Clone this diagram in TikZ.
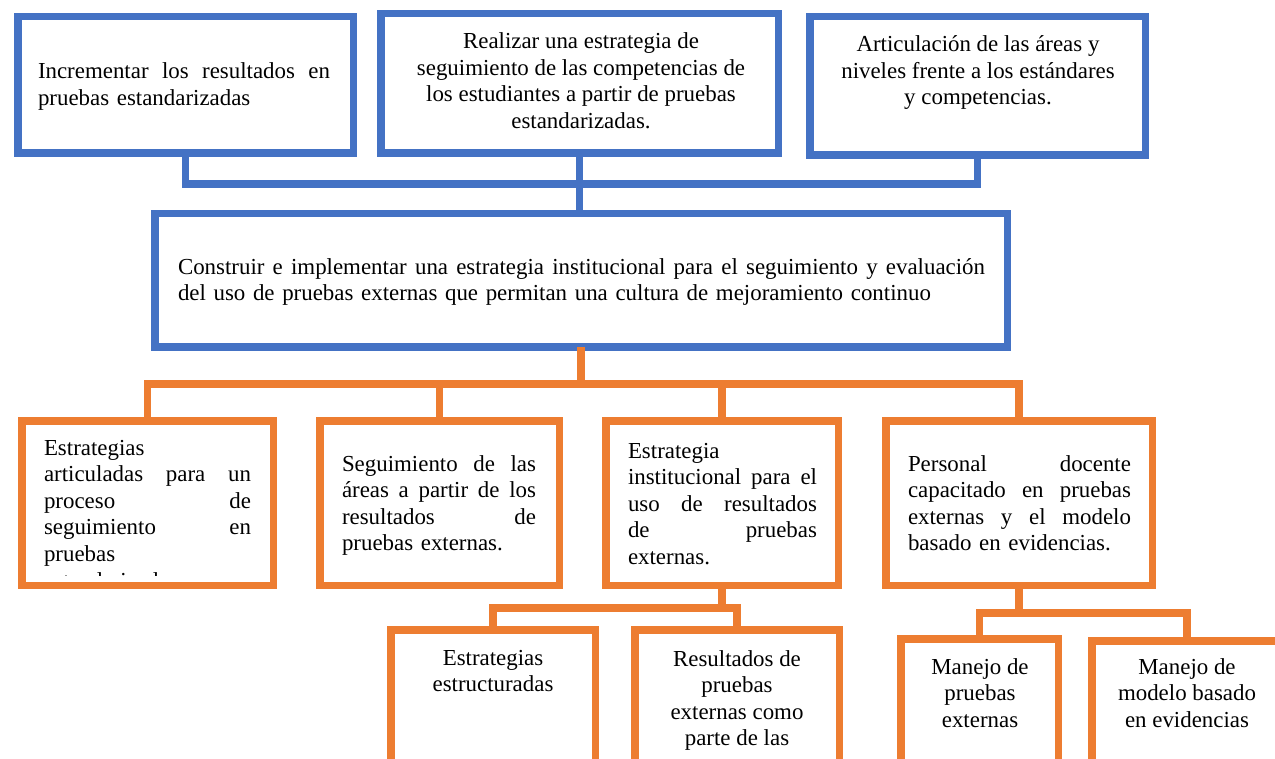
\documentclass[tikz,border=0pt]{standalone}
\usepackage{fontspec}
\setmainfont{Liberation Serif}
\definecolor{myblue}{HTML}{4472C4}
\definecolor{myorange}{HTML}{ED7D31}
\newcommand\jl[2]{\leavevmode\hbox to #1{#2}}
\tikzset{
  bbox/.style={draw=myblue, line width=7.5pt, fill=white, inner sep=0pt, outer sep=0pt},
  obox/.style={draw=myorange, line width=7.5pt, fill=white, inner sep=0pt, outer sep=0pt},
  bconn/.style={draw=myblue, line width=7.5pt},
  oconn/.style={draw=myorange, line width=7.5pt},
  txt/.style={inner sep=0pt, outer sep=0pt, font=\fontsize{22.9}{26.6}\selectfont},
  ltxt/.style={txt, anchor=north west, align=left},
  ctxt/.style={txt, anchor=north, align=center}
}
\begin{document}
\begin{tikzpicture}[x=1pt, y=-1pt]
\useasboundingbox (0,0) rectangle (1275,759);
\clip (0,0) rectangle (1275,759);
\fill[white] (0,0) rectangle (1275,759);

% boxes
\node[bbox, minimum width=335.5pt, minimum height=136.5pt] (b1) at (185.5,85) {};
\node[bbox, minimum width=397.5pt, minimum height=139.5pt] (b2) at (579.5,83.5) {};
\node[bbox, minimum width=335.5pt, minimum height=138.5pt] (b3) at (977.5,86) {};
\node[bbox, minimum width=852.5pt, minimum height=133.5pt] (c) at (581,280.5) {};
\node[obox, minimum width=251.5pt, minimum height=164.5pt] (oA) at (147.5,503) {};
\node[obox, minimum width=239.5pt, minimum height=164.5pt] (oB) at (439.5,503) {};
\node[obox, minimum width=232.5pt, minimum height=164.5pt] (oC) at (722,503) {};
\node[obox, minimum width=266.5pt, minimum height=164.5pt] (oD) at (1019,503) {};
\node[obox, minimum width=204.5pt, minimum height=166.5pt] (oE) at (493,713) {};
\node[obox, minimum width=204.5pt, minimum height=166.5pt] (oF) at (737,713) {};
\node[obox, minimum width=157.5pt, minimum height=157.5pt] (oG) at (979.5,717.5) {};
\node[obox, minimum width=190.5pt, minimum height=155.5pt] (oH) at (1187,718.5) {};

% connectors
\coordinate (topbar) at (581,184);
\coordinate (obar) at (581,384);
\coordinate (cbar) at (722,608);
\coordinate (dbar) at (1019,613);
\draw[bconn] (b1.south) |- (topbar) -| (b3.south);
\draw[bconn] (b2.south) -- (b2.south |- c.north);
\draw[oconn] (c.south) -- (c.south |- obar);
\draw[oconn] (oA.north) |- (obar) -| (oD.north);
\draw[oconn] (oB.north) -- (oB.north |- obar);
\draw[oconn] (oC.north) -- (oC.north |- obar);
\draw[oconn] (oC.south) -- (oC.south |- cbar);
\draw[oconn] (oE.north) |- (cbar) -| (oF.north);
\draw[oconn] (oD.south) -- (oD.south |- dbar);
\draw[oconn] (oG.north) |- (dbar) -| (oH.north);

% texts
\node[ltxt, text width=292pt] (t1) at (38,60)
  {\strut\jl{292pt}{Incrementar \hfill los \hfill resultados \hfill en}\\pruebas estandarizadas};
\node[ctxt] (t2) at (581,30)
  {\strut Realizar una estrategia de\\seguimiento de las competencias de\\los estudiantes a partir de pruebas\\estandarizadas.};
\node[ctxt] (t3) at (978,33)
  {\strut Articulación de las áreas y\\niveles frente a los estándares\\y competencias.};
\node[ltxt, text width=807pt] (tc) at (178,255.4)
  {\strut\jl{807pt}{Construir \hfill e \hfill implementar \hfill una \hfill estrategia \hfill institucional \hfill para \hfill el \hfill seguimiento \hfill y \hfill evaluación}\\del uso de pruebas externas que permitan una cultura de mejoramiento continuo};
\begin{scope}
\clip (22,421) rectangle (273,575);
\node[ltxt, text width=207pt] (tA) at (44,436.4)
  {\strut Estrategias\\\jl{207pt}{articuladas \hfill para \hfill un}\\\jl{207pt}{proceso \hfill de}\\\jl{207pt}{seguimiento \hfill en}\\pruebas\\estandarizadas};
\end{scope}
\node[ltxt, text width=194pt] (tB) at (342,452.4)
  {\strut\jl{194pt}{Seguimiento \hfill de \hfill las}\\\jl{194pt}{áreas \hfill a \hfill partir \hfill de \hfill los}\\\jl{194pt}{resultados \hfill de}\\pruebas externas.};
\node[ltxt, text width=189pt] (tC) at (628,439.4)
  {\strut Estrategia\\\jl{189pt}{institucional \hfill para \hfill el}\\\jl{189pt}{uso \hfill de \hfill resultados}\\\jl{189pt}{de \hfill pruebas}\\externas.};
\node[ltxt, text width=223pt] (tD) at (908,452.4)
  {\strut\jl{223pt}{Personal \hfill docente}\\\jl{223pt}{capacitado \hfill en \hfill pruebas}\\\jl{223pt}{externas \hfill y \hfill el \hfill modelo}\\basado en evidencias.};
\node[ctxt] (tE) at (493,646.4) {\strut Estrategias\\estructuradas};
\node[ctxt] (tF) at (737,647.4) {\strut Resultados de\\pruebas\\externas como\\parte de las};
\node[ctxt] (tG) at (980,655.4) {\strut Manejo de\\pruebas\\externas};
\node[ctxt] (tH) at (1187,655.4) {\strut Manejo de\\modelo basado\\en evidencias};
\end{tikzpicture}
\end{document}
